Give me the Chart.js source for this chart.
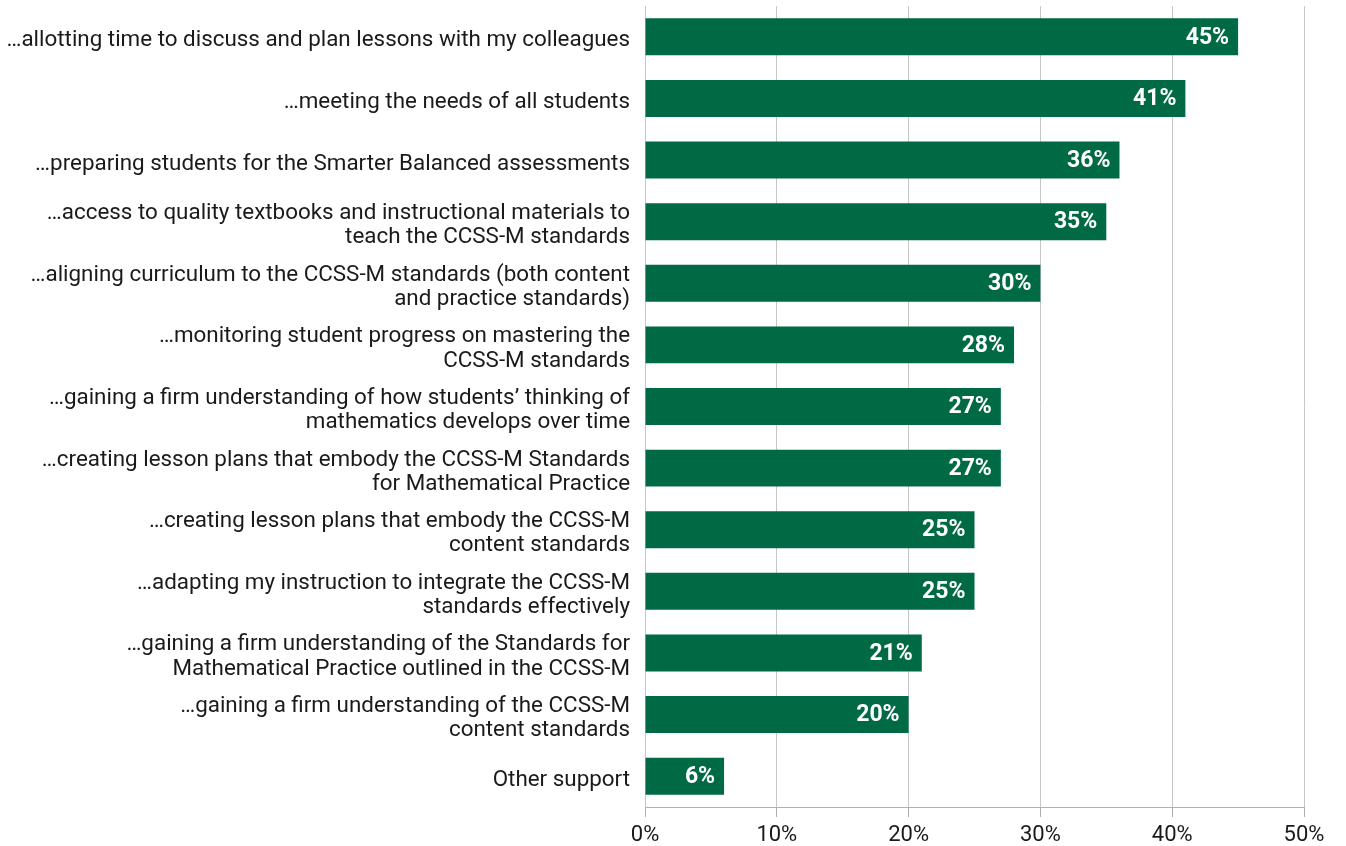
<!DOCTYPE html>
<html>
<head>
<meta charset="utf-8">
<script src="https://cdn.jsdelivr.net/npm/chart.js@4"></script>
<style>
  html, body { margin: 0; padding: 0; background: #ffffff; }
  canvas { display: block; }
</style>
</head>
<body>
<canvas id="c" width="1346" height="846" style="width:1346px;height:846px"></canvas>
<script>
const categories = [
  "…allotting time to discuss and plan lessons with my colleagues",
  "…meeting the needs of all students",
  "…preparing students for the Smarter Balanced assessments",
  ["…access to quality textbooks and instructional materials to", "teach the CCSS-M standards"],
  ["…aligning curriculum to the CCSS-M standards (both content", "and practice standards)"],
  ["…monitoring student progress on mastering the", "CCSS-M standards"],
  ["…gaining a firm understanding of how students’ thinking of", "mathematics develops over time"],
  ["…creating lesson plans that embody the CCSS-M Standards", "for Mathematical Practice"],
  ["…creating lesson plans that embody the CCSS-M", "content standards"],
  ["…adapting my instruction to integrate the CCSS-M", "standards effectively"],
  ["…gaining a firm understanding of the Standards for", "Mathematical Practice outlined in the CCSS-M"],
  ["…gaining a firm understanding of the CCSS-M", "content standards"],
  "Other support"
];
const values = [45, 41, 36, 35, 30, 28, 27, 27, 25, 25, 21, 20, 6];
const xTicks = [0, 10, 20, 30, 40, 50];

const FONT = "Roboto, 'Noto Sans', sans-serif";
const GREEN = "#006a45";

const valueLabels = {
  id: 'valueLabels',
  afterDatasetsDraw(chart) {
    const ctx = chart.ctx;
    const meta = chart.getDatasetMeta(0);
    ctx.save();
    ctx.fillStyle = '#ffffff';
    ctx.font = "bold 23px " + FONT;
    ctx.textAlign = 'right';
    ctx.textBaseline = 'middle';
    meta.data.forEach((bar, i) => {
      ctx.fillText(values[i] + '%', bar.x - 9, bar.y + 1);
    });
    ctx.restore();
  }
};

new Chart(document.getElementById('c'), {
  type: 'bar',
  data: {
    labels: categories,
    datasets: [{
      data: values,
      backgroundColor: GREEN,
      borderWidth: 0,
      barPercentage: 0.6,
      categoryPercentage: 1.0
    }]
  },
  options: {
    indexAxis: 'y',
    responsive: false,
    maintainAspectRatio: false,
    animation: false,
    devicePixelRatio: 1,
    layout: { padding: { top: 6, right: 42, bottom: 0, left: 0 } },
    plugins: { legend: { display: false }, tooltip: { enabled: false } },
    scales: {
      x: {
        min: 0, max: 50,
        afterBuildTicks(scale) { scale.ticks = xTicks.map(v => ({ value: v })); },
        afterFit(scale) { scale.height = 39; scale.paddingLeft = 0; scale.paddingRight = 0; },
        grid: { color: '#c6c6c6', lineWidth: 1, drawTicks: true, tickLength: 10, tickColor: '#b0b0b0' },
        border: { display: true, color: '#b0b0b0' },
        ticks: {
          color: '#1a1a1a',
          font: { family: FONT, size: 22 },
          padding: 5,
          callback: v => v + '%'
        }
      },
      y: {
        afterFit(scale) { scale.width = 645; scale.paddingTop = 0; scale.paddingBottom = 0; },
        grid: { display: false },
        border: { display: false },
        ticks: {
          color: '#1a1a1a',
          font: { family: FONT, size: 22.4, lineHeight: 1.08 },
          padding: 7,
          labelOffset: 4,
          autoSkip: false
        }
      }
    }
  },
  plugins: [valueLabels]
});
</script>
</body>
</html>
